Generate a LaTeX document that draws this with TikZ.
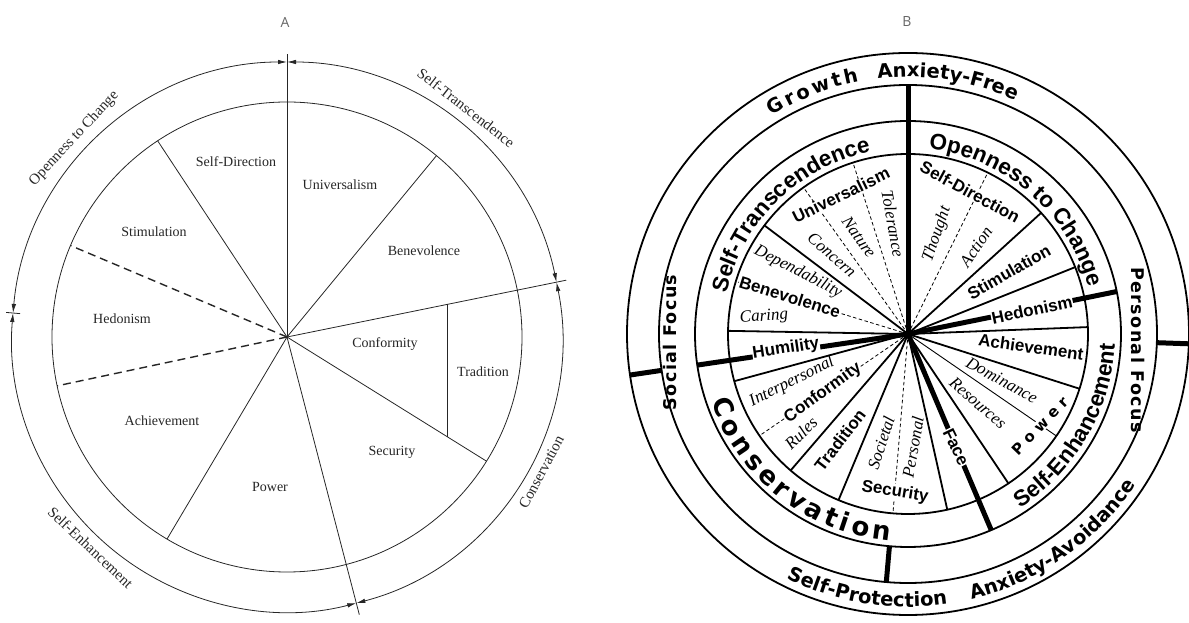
\documentclass[tikz,border=0pt]{standalone}
\usepackage{fontspec}
\setmainfont{Liberation Serif}
\newfontfamily\sansfam{Liberation Sans}
\newfontfamily\ringfam{DejaVu Sans}
\newfontfamily\titlefam{Open Sans}
\usepackage{tikz}
\usetikzlibrary{arrows.meta,calc,decorations.text}

\newcommand\lblAfont{\fontsize{14}{16}\selectfont}
\newcommand\arcAfont{\fontsize{15}{17}\selectfont}
\newcommand\valfont{\sansfam\bfseries\fontsize{17}{18}\selectfont}
\newcommand\subfont{\itshape\fontsize{17}{18}\selectfont}
\newcommand\grpfont{\sansfam\bfseries\fontsize{22.5}{24}\selectfont}
\newcommand\consfont{\ringfam\bfseries\fontsize{26}{27}\selectfont}
\newcommand\ringfont{\ringfam\bfseries\fontsize{19.5}{20}\selectfont}
\newcommand\growfont{\ringfam\bfseries\fontsize{19.5}{20}\selectfont}
\newcommand\focfont{\ringfam\bfseries\fontsize{17.5}{19}\selectfont\addfontfeatures{LetterSpace=8}}
\newcommand\powfont{\ringfam\bfseries\fontsize{15}{16}\selectfont\addfontfeatures{LetterSpace=35}}

\tikzstyle{ringA}    =[line width=0.8pt, black!85]
\tikzstyle{spokeA}   =[line width=0.8pt, black!85]
\tikzstyle{dashA}    =[line width=1.4pt, black!85, dash pattern=on 8pt off 5pt]
\tikzstyle{arcA}     =[line width=0.8pt, black!85,
                       arrows={Latex[length=9pt,width=4.5pt]-Latex[length=9pt,width=4.5pt]}]
\tikzstyle{lblA}     =[font=\lblAfont, text=black!85]
\tikzstyle{arclblA}  =[font=\arcAfont, text=black!85]
\tikzstyle{ringB}    =[line width=1.8pt]
\tikzstyle{spokeB}   =[line width=1.8pt]
\tikzstyle{majorsep} =[line width=5pt]
\tikzstyle{subdiv}   =[line width=0.8pt, dash pattern=on 3.5pt off 2.5pt]
\tikzstyle{fineB}    =[line width=0.9pt]
\tikzstyle{valuelbl} =[font=\valfont, inner sep=0.5pt]
\tikzstyle{onspoke}  =[valuelbl, fill=white]
\tikzstyle{facetlbl} =[font=\subfont, inner sep=0.5pt]
\tikzstyle{paneltitle}=[font=\titlefam\fontsize{14}{16}\selectfont, text=black!60]

\begin{document}
\begin{tikzpicture}[x=1pt, y=1pt]
  \useasboundingbox (0,0) rectangle (1189,623);

  \node[paneltitle] (titleA) at (285,601) {A};
  \node[paneltitle] (titleB) at (907,601) {B};

  % ── panel A: circles and arrowed arcs ──────────────────────────────────────
  \coordinate (hubA) at (287,286);
  \draw[ringA] (hubA) circle[radius=235];
  \draw[arcA] ([shift={(90:275)}]hubA)   arc[start angle=90,   end angle=175,   radius=275];
  \draw[arcA] ([shift={(90:275)}]hubA)   arc[start angle=90,   end angle=11.5,  radius=275];
  \draw[arcA] ([shift={(11.5:275)}]hubA) arc[start angle=11.5, end angle=-75.4, radius=275];
  \draw[arcA] ([shift={(175:275)}]hubA)  arc[start angle=175,  end angle=284.6, radius=275];

  % ── panel A: spokes ────────────────────────────────────────────────────────
  \draw[spokeA] (hubA) -- ++(90:283);
  \draw[spokeA] (hubA) -- ++(11.5:285);
  \draw[spokeA] (hubA) -- ++(-75.4:287);
  \draw[spokeA] (hubA) -- ++(123.4:235);
  \draw[spokeA] (hubA) -- ++(50.5:235);
  \draw[spokeA] (hubA) -- ++(-31.9:235);
  \draw[spokeA] (hubA) -- ++(239.3:235);
  \draw[dashA]  (hubA) -- ++(157.1:235);
  \draw[dashA]  (hubA) -- ++(192:235);
  \draw[spokeA] ($(hubA)+(160,32.5)$) -- ($(hubA)+(160,-99.6)$);
  \draw[spokeA] ($(hubA)+(175:268)$) -- ($(hubA)+(175:282)$);

  % ── panel A: labels ────────────────────────────────────────────────────────
  \node[lblA] (selfdirA)  at (236,461) {Self-Direction};
  \node[lblA] (univA)     at (340,438) {Universalism};
  \node[lblA] (stimA)     at (154,391) {Stimulation};
  \node[lblA] (benevA)    at (424,372) {Benevolence};
  \node[lblA] (hedonA)    at (122,304) {Hedonism};
  \node[lblA] (confA)     at (385,279) {Conformity};
  \node[lblA] (tradA)     at (483,251) {Tradition};
  \node[lblA] (achieveA)  at (162,202) {Achievement};
  \node[lblA] (securA)    at (392,171) {Security};
  \node[lblA] (powerA)    at (270,136) {Power};

  \node[arclblA, rotate=47]    (openA)  at ($(hubA)+(137:291)$)   {Openness to Change};
  \node[arclblA, rotate=-38]   (transA) at ($(hubA)+(52:291)$)    {Self-Transcendence};
  \node[arclblA, rotate=62]    (consA)  at ($(hubA)+(-28:288)$)   {Conservation};
  \node[arclblA, rotate=-43.5] (enhA)   at ($(hubA)+(227:288)$)   {Self-Enhancement};

  % ── panel B: spokes ────────────────────────────────────────────────────────
  \coordinate (hubB) at (908,289);
  \draw[spokeB] (hubB) -- ++(42.3:180);
  \draw[spokeB] (hubB) -- ++(21.8:180);
  \draw[spokeB] (hubB) -- ++(2.2:180);
  \draw[spokeB] (hubB) -- ++(-17.7:180);
  \draw[spokeB] (hubB) -- ++(-56.1:180);
  \draw[spokeB] (hubB) -- ++(-77.4:180);
  \draw[spokeB] (hubB) -- ++(247.3:180);
  \draw[spokeB] (hubB) -- ++(229.3:180);
  \draw[spokeB] (hubB) -- ++(195.2:180);
  \draw[spokeB] (hubB) -- ++(179:180);
  \draw[spokeB] (hubB) -- ++(142.9:180);
  \draw[fineB]  (hubB) -- ++(-34.5:180);
  \draw[subdiv] (hubB) -- ++(63.7:180);
  \draw[subdiv] (hubB) -- ++(-94.8:180);
  \draw[subdiv] (hubB) -- ++(214.4:180);
  \draw[subdiv] (hubB) -- ++(163:180);
  \draw[subdiv] (hubB) -- ++(125.5:180);
  \draw[subdiv] (hubB) -- ++(107.8:180);

  \draw[majorsep] (hubB) -- ++(90:249);
  \draw[majorsep] (hubB) -- ++(11.5:213);
  \draw[majorsep] (hubB) -- ++(-67:213);
  \draw[majorsep] (hubB) -- ++(188.4:213);
  \draw[majorsep] ([shift={(188.4:249)}]hubB) -- ([shift={(188.4:281)}]hubB);
  \draw[majorsep] ([shift={(-2:249)}]hubB)    -- ([shift={(-2:281)}]hubB);
  \draw[majorsep] ([shift={(265:213)}]hubB)   -- ([shift={(265:249)}]hubB);

  % ── panel B: value labels ──────────────────────────────────────────────────
  \node[onspoke,  rotate=-28.5] (selfdir)   at (970,431) {Self-Direction};
  \node[facetlbl, rotate=71]    (thought)   at (937,389) {Thought};
  \node[facetlbl, rotate=56]    (action)    at (976,376) {Action};
  \node[valuelbl, rotate=29.6]  (stim)      at (1009,351) {Stimulation};
  \node[onspoke,  rotate=12]    (hedon)     at (1032,313) {Hedonism};
  \node[valuelbl, rotate=-8]    (achieve)   at (1031,276) {Achievement};
  \node[facetlbl, rotate=-28.7] (dominance) at (1002,243) {Dominance};
  \node[facetlbl, rotate=-41]   (resources) at (978,220)  {Resources};
  \node[onspoke,  rotate=46, font=\powfont] (power) at (1040,197) {Power};
  \node[onspoke,  rotate=-64]   (face)      at (956,176)  {Face};
  \node[onspoke,  rotate=-9]    (secur)     at (895,131)  {Security};
  \node[facetlbl, rotate=80]    (personal)  at (913,176)  {Personal};
  \node[facetlbl, rotate=72]    (societal)  at (881,180)  {Societal};
  \node[valuelbl, rotate=52.5]  (trad)      at (840,183)  {Tradition};
  \node[facetlbl, rotate=44]    (rules)     at (801,190)  {Rules};
  \node[onspoke,  rotate=36]    (conf)      at (823,230)  {Conformity};
  \node[facetlbl, rotate=26.6]  (interp)    at (792,241)  {Interpersonal};
  \node[onspoke,  rotate=8.5]   (humil)     at (786,274)  {Humility};
  \node[facetlbl, rotate=4]     (caring)    at (764,306)  {Caring};
  \node[onspoke,  rotate=-17.4] (benev)     at (790,326)  {Benevolence};
  \node[facetlbl, rotate=-27.3] (depend)    at (798,351)  {Dependability};
  \node[facetlbl, rotate=-41.3] (concern)   at (832,368)  {Concern};
  \node[facetlbl, rotate=-54.6] (nature)    at (859,386)  {Nature};
  \node[facetlbl, rotate=-80]   (toler)     at (893,399)  {Tolerance};
  \node[onspoke,  rotate=26]    (univ)      at (841,428)  {Universalism};

  % ── panel B: rings ─────────────────────────────────────────────────────────
  \draw[ringB] (hubB) circle[radius=180];
  \draw[ringB] (hubB) circle[radius=213];
  \draw[ringB] (hubB) circle[radius=249];
  \draw[ringB] (hubB) circle[radius=281];

  % ── panel B: ring labels ───────────────────────────────────────────────────
  \path[decorate, decoration={text along path, text align=center,
      text={|\grpfont|Self-Transcendence}}]
    ([shift={(189.5:186)}]hubB) arc[start angle=189.5, end angle=79.5, radius=186];
  \path[decorate, decoration={text along path, text align=center,
      text={|\grpfont|Openness to Change}}]
    ([shift={(104:186)}]hubB) arc[start angle=104, end angle=-6, radius=186];
  \path[decorate, decoration={text along path, text align=center,
      text={|\grpfont|Self-Enhancement}}]
    ([shift={(-85:207)}]hubB) arc[start angle=-85, end angle=25, radius=207];
  \path[decorate, decoration={text along path, text align=fit to path,
      text={|\consfont|Conservation}}]
    ([shift={(199:208)}]hubB) arc[start angle=199, end angle=265, radius=208];

  \path[decorate, decoration={text along path, text align=fit to path,
      text={|\growfont|Growth}}]
    ([shift={(122:257)}]hubB) arc[start angle=122, end angle=101, radius=257];
  \path[decorate, decoration={text along path, text align=center,
      text={|\ringfont|Anxiety-Free}}]
    ([shift={(111:257)}]hubB) arc[start angle=111, end angle=51, radius=257];
  \path[decorate, decoration={text along path, text align=center,
      text={|\ringfont|Self-Protection}}]
    ([shift={(231:273)}]hubB) arc[start angle=231, end angle=291, radius=273];
  \path[decorate, decoration={text along path, text align=center,
      text={|\ringfont|Anxiety-Avoidance}}]
    ([shift={(-85:273)}]hubB) arc[start angle=-85, end angle=-25, radius=273];

  \node[font=\focfont, rotate=90]  (social)    at ($(hubB)+(182:238)$) {Social Focus};
  \node[font=\focfont, rotate=-90] (personfoc) at ($(hubB)+(-4:231)$)  {Personal Focus};

\end{tikzpicture}
\end{document}
